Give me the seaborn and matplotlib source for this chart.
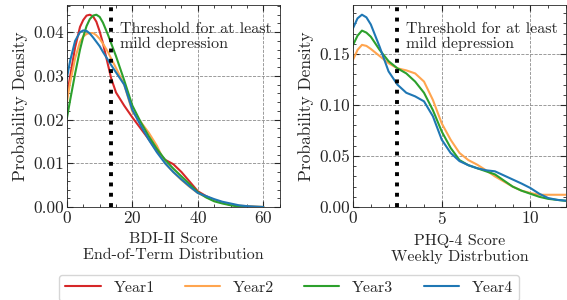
import pandas as pd
import seaborn as sns
import matplotlib as mpl
import matplotlib.pyplot as plt
mpl.use('Agg')

years = ['Year1', 'Year2', 'Year3', 'Year4']
colors = ['#d62728', '#ffa54f', '#2ca02c', '#1f77b4']

# BDI-II end-of-term densities
bdi_x = [0, 1, 2.5, 4, 5, 6, 7, 8, 9, 10, 11, 12.5, 13.5, 15, 17.5, 20,
         22.5, 25, 27.5, 30, 32.5, 35, 37.5, 40, 42.5, 45, 47.5, 50, 52.5, 55, 57.5, 60]
bdi_year1 = [0.0253, 0.0300, 0.0365, 0.0412, 0.0428, 0.0438, 0.0440, 0.0436, 0.0424,
             0.0402, 0.0375, 0.0327, 0.0295, 0.0262, 0.0232, 0.0205, 0.0180, 0.0155,
             0.0128, 0.0108, 0.0098, 0.0080, 0.0058, 0.0036, 0.0025, 0.0016, 0.0010,
             0.0005, 0.0002, 0.0001, 0.0000, 0.0000]
bdi_year2 = [0.0240, 0.0285, 0.0340, 0.0378, 0.0390, 0.0396, 0.0398, 0.0398, 0.0393,
             0.0385, 0.0374, 0.0355, 0.0340, 0.0318, 0.0280, 0.0218, 0.0195, 0.0170,
             0.0140, 0.0100, 0.0080, 0.0062, 0.0046, 0.0032, 0.0023, 0.0015, 0.0010,
             0.0006, 0.0003, 0.0002, 0.0001, 0.0000]
bdi_year3 = [0.0203, 0.0245, 0.0305, 0.0360, 0.0390, 0.0414, 0.0430, 0.0438, 0.0440,
             0.0435, 0.0422, 0.0395, 0.0375, 0.0345, 0.0290, 0.0232, 0.0195, 0.0162,
             0.0133, 0.0108, 0.0088, 0.0070, 0.0052, 0.0034, 0.0022, 0.0013, 0.0008,
             0.0004, 0.0001, 0.0000, 0.0000, 0.0000]
bdi_year4 = [0.0295, 0.0335, 0.0380, 0.0400, 0.0404, 0.0403, 0.0397, 0.0388, 0.0378,
             0.0368, 0.0355, 0.0337, 0.0325, 0.0308, 0.0280, 0.0222, 0.0187, 0.0154,
             0.0125, 0.0100, 0.0080, 0.0063, 0.0047, 0.0032, 0.0025, 0.0018, 0.0012,
             0.0008, 0.0004, 0.0002, 0.0001, 0.0000]

# PHQ-4 weekly densities (no Year1 curve in this panel)
phq_x = [0, 0.25, 0.5, 0.75, 1, 1.5, 2, 2.5, 3, 3.5, 4, 4.5, 5, 5.5, 6, 6.5, 7,
         7.5, 8, 8.5, 9, 9.5, 10, 10.5, 11, 11.5, 12]
phq_year2 = [0.1445, 0.154, 0.159, 0.158, 0.155, 0.148, 0.141, 0.136, 0.134, 0.131,
             0.123, 0.105, 0.082, 0.066, 0.053, 0.046, 0.0415, 0.036, 0.030, 0.025,
             0.020, 0.016, 0.0137, 0.012, 0.012, 0.012, 0.012]
phq_year3 = [0.159, 0.168, 0.173, 0.171, 0.167, 0.154, 0.143, 0.136, 0.131, 0.123,
             0.112, 0.095, 0.074, 0.058, 0.046, 0.041, 0.038, 0.035, 0.032, 0.026,
             0.020, 0.016, 0.013, 0.010, 0.008, 0.007, 0.006]
phq_year4 = [0.1755, 0.185, 0.1886, 0.186, 0.179, 0.157, 0.133, 0.120, 0.112, 0.1085,
             0.1036, 0.089, 0.066, 0.053, 0.045, 0.041, 0.038, 0.036, 0.035, 0.031,
             0.027, 0.023, 0.0186, 0.013, 0.0088, 0.007, 0.0062]

bdi_threshold = 13.5
phq_threshold = 2.5


def long_df(x, series):
    rows = []
    for name, vals in series.items():
        for xi, yi in zip(x, vals):
            rows.append({'score': xi, 'density': yi, 'year': name})
    return pd.DataFrame(rows)


bdi_df = long_df(bdi_x, {'Year1': bdi_year1, 'Year2': bdi_year2,
                         'Year3': bdi_year3, 'Year4': bdi_year4})
phq_df = long_df(phq_x, {'Year2': phq_year2, 'Year3': phq_year3, 'Year4': phq_year4})

sns.set_style('ticks')
plt.rcParams['font.family'] = ['cmr10', 'DejaVu Serif']
plt.rcParams['axes.formatter.use_mathtext'] = True
plt.rcParams['mathtext.fontset'] = 'cm'
plt.rcParams['font.size'] = 12
plt.rcParams['xtick.labelsize'] = 12.5
plt.rcParams['ytick.labelsize'] = 12.5
plt.rcParams['xtick.direction'] = 'in'
plt.rcParams['ytick.direction'] = 'in'
plt.rcParams['xtick.top'] = True
plt.rcParams['ytick.right'] = True
plt.rcParams['xtick.minor.visible'] = True
plt.rcParams['ytick.minor.visible'] = True
plt.rcParams['xtick.major.size'] = 4
plt.rcParams['ytick.major.size'] = 4
plt.rcParams['xtick.minor.size'] = 2
plt.rcParams['ytick.minor.size'] = 2
plt.rcParams['xtick.major.pad'] = 2
plt.rcParams['ytick.major.pad'] = 2
plt.rcParams['axes.linewidth'] = 0.6

palette = dict(zip(years, colors))

f, axes = plt.subplots(1, 2, figsize=(5.67, 3.0), dpi=100)
f.subplots_adjust(left=0.118, right=0.998, top=0.983, bottom=0.31, wspace=0.345)

panels = [
    (axes[0], bdi_df, bdi_threshold, (0, 65), (0, 0.0462),
     'BDI-II Score\nEnd-of-Term Distribution', [0, 20, 40, 60], [0, 0.01, 0.02, 0.03, 0.04]),
    (axes[1], phq_df, phq_threshold, (0, 12), (0, 0.198),
     'PHQ-4 Score\nWeekly Distrbution', [0, 5, 10], [0, 0.05, 0.10, 0.15]),
]

for ax, df, thr, xlim, ylim, xlabel, xt, yt in panels:
    sns.lineplot(data=df, x='score', y='density', hue='year', palette=palette,
                 hue_order=[y for y in years if y in df['year'].unique()],
                 lw=1.5, ax=ax, legend=False)
    ax.axvline(thr, color='black', ls=':', lw=2.8)
    ax.text(0.248, 0.915, 'Threshold for at least\nmild depression',
            transform=ax.transAxes, ha='left', va='top', fontsize=11.5,
            linespacing=1.05)
    ax.set_xlim(*xlim)
    ax.set_ylim(*ylim)
    ax.set_xticks(xt)
    ax.set_yticks(yt)
    ax.set_yticklabels([f'{v:.2f}' for v in yt])
    ax.grid(True, which='major', ls='--', lw=0.6, color='0.55')
    ax.set_xlabel(xlabel, linespacing=1.15, fontsize=11.5, labelpad=5)
    ax.set_ylabel('Probability Density', fontsize=12.5, labelpad=4)

handles = [mpl.lines.Line2D([], [], color=c, lw=1.5) for c in colors]
f.legend(handles, years, loc='upper center', bbox_to_anchor=(0.51, 0.085), ncol=4,
         handlelength=2.2, handletextpad=0.8, columnspacing=1.9, frameon=True,
         edgecolor='0.8', fontsize=11.5, borderaxespad=0)

f.savefig('out.png', dpi=100)
